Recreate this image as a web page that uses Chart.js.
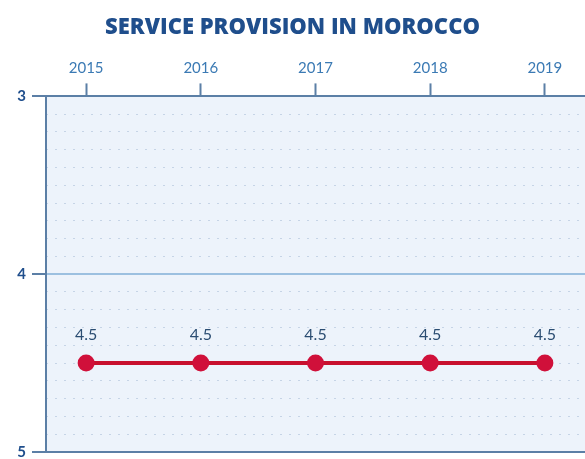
<!DOCTYPE html>
<html>
<head>
<meta charset="utf-8">
<script src="https://cdn.jsdelivr.net/npm/chart.js@4/dist/chart.umd.min.js"></script>
<style>
  html, body { margin: 0; padding: 0; background: #ffffff; }
  #wrap { width: 585px; height: 459px; }
</style>
</head>
<body>
<div id="wrap"><canvas id="wykres"></canvas></div>
<script>
// dane wykresu
const years = [2015, 2016, 2017, 2018, 2019];
const values = [4.5, 4.5, 4.5, 4.5, 4.5];
const yTicks = [3, 4, 5];

const darkBlue = '#1f4e8c';
const tickBlue = '#3b7ab4';
const axisBlue = '#5b7fa6';

// tlo obszaru wykresu
const areaBg = {
  id: 'areaBg',
  beforeDraw(chart) {
    const { ctx, chartArea: a } = chart;
    ctx.save();
    ctx.fillStyle = '#edf3fb';
    ctx.fillRect(a.left, a.top, a.right - a.left, a.bottom - a.top);
    ctx.restore();
  }
};

// etykiety nad punktami
const pointLabels = {
  id: 'pointLabels',
  afterDatasetsDraw(chart) {
    const { ctx } = chart;
    const meta = chart.getDatasetMeta(0);
    ctx.save();
    ctx.fillStyle = '#2b4d72';
    ctx.font = '16px Lato';
    ctx.textAlign = 'center';
    ctx.textBaseline = 'alphabetic';
    meta.data.forEach((pt, i) => {
      ctx.fillText(values[i].toFixed(1), pt.x, pt.y - 23);
    });
    ctx.restore();
  }
};

const noPad = s => { s.paddingLeft = 0; s.paddingRight = 0; s.paddingTop = 0; s.paddingBottom = 0; };

new Chart(document.getElementById('wykres'), {
  type: 'line',
  data: {
    datasets: [{
      label: 'Service provision',
      data: years.map((y, i) => ({ x: y, y: values[i] })),
      borderColor: '#c8102e',
      backgroundColor: '#d0103a',
      borderWidth: 4,
      pointRadius: 8.5,
      pointHoverRadius: 8.5,
      pointBorderWidth: 0,
    }],
  },
  plugins: [areaBg, pointLabels],
  options: {
    responsive: true,
    maintainAspectRatio: false,
    animation: false,
    layout: { autoPadding: false, padding: { left: 0, right: 0, top: 0, bottom: 7 } },
    plugins: {
      legend: { display: false },
      tooltip: { enabled: false },
      title: {
        display: true,
        text: 'SERVICE PROVISION IN MOROCCO',
        color: darkBlue,
        font: { family: 'Open Sans', size: 22, weight: '800' },
        padding: { top: 15, bottom: 12 },
      },
    },
    scales: {
      x: {
        type: 'linear',
        position: 'top',
        min: 2014.65,
        max: 2019.35,
        afterBuildTicks: s => { s.ticks = years.map(v => ({ value: v })); },
        afterFit: noPad,
        ticks: {
          color: tickBlue,
          font: { family: 'Lato', size: 15 },
          padding: 6,
          callback: v => String(v),
        },
        grid: { drawOnChartArea: false, tickLength: 13, tickColor: axisBlue, tickWidth: 2 },
        border: { display: true, color: axisBlue, width: 2 },
      },
      y: {
        type: 'linear',
        position: 'left',
        reverse: true,
        min: 3,
        max: 5,
        afterBuildTicks: s => { s.ticks = yTicks.map(v => ({ value: v })); },
        afterFit: s => { s.width = 46; noPad(s); },
        ticks: {
          color: darkBlue,
          font: { family: 'Lato', size: 15, weight: 'bold' },
          padding: 6,
        },
        grid: {
          tickLength: 14,
          tickWidth: 2,
          tickColor: axisBlue,
          lineWidth: 2,
          color: c => c.tick && c.tick.value === 4 ? '#9cc0e0' : axisBlue,
        },
        border: { display: true, color: axisBlue, width: 2 },
      },
      yMinor: {
        type: 'linear',
        position: 'left',
        reverse: true,
        min: 3,
        max: 5,
        afterFit: s => { s.width = 0; noPad(s); },
        ticks: { display: false, stepSize: 0.1 },
        grid: {
          drawTicks: false,
          color: c => c.tick && Math.abs(c.tick.value * 10 % 10) < 0.01 ? 'rgba(0,0,0,0)' : '#c6d4e6',
          lineWidth: 1,
        },
        border: { display: false, dash: [2, 7] },
      },
    },
  },
});
</script>
</body>
</html>
